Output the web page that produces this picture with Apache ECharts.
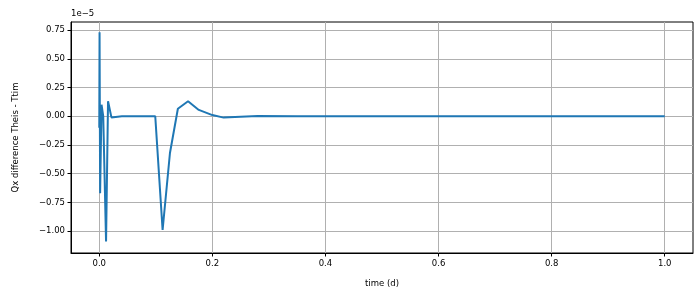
<!DOCTYPE html>
<html>
<head>
<meta charset="utf-8">
<script src="https://cdn.jsdelivr.net/npm/echarts@6/dist/echarts.min.js"></script>
<style>
  html, body { margin: 0; padding: 0; background: #fff; }
  #chart { width: 700px; height: 301px; }
</style>
</head>
<body>
<div id="chart"></div>
<script>
// time (d) and Qx difference (in units of 1e-5)
const times = [0, 0.0005, 0.0015, 0.004, 0.007, 0.01, 0.012, 0.0155, 0.0215, 0.025,
  0.04, 0.06, 0.08, 0.099, 0.112, 0.125, 0.139, 0.157, 0.176, 0.2, 0.22,
  0.25, 0.28, 0.35, 0.5, 0.75, 1.0];
const diffs = [-0.1, 0.73, -0.67, 0.1, 0.0, 0.0, -1.09, 0.13, -0.01, 0.0,
  0.0, 0.0, 0.0, 0.0, -0.99, -0.32, 0.065, 0.13, 0.055, 0.01, -0.012,
  -0.004, 0.003, 0.0, 0.0, 0.0, 0.0];
const xTicks = [0, 0.2, 0.4, 0.6, 0.8, 1.0];
const yTicks = [-1.0, -0.75, -0.5, -0.25, 0, 0.25, 0.5, 0.75];

const font = 'DejaVu Sans';
const chart = echarts.init(document.getElementById('chart'), null, { renderer: 'canvas' });

const minus = v => (v < 0 ? '\u2212' : '');
chart.setOption({
  animation: false,
  backgroundColor: '#fff',
  grid: {
    left: 71, right: 7, top: 22, bottom: 48,
    show: true, borderColor: '#000', borderWidth: 1, backgroundColor: 'transparent'
  },
  graphic: [{
    type: 'text', left: 71, top: 9,
    style: { text: '1e\u22125', font: '8.5px "DejaVu Sans"', fill: '#000' }
  }],
  xAxis: {
    type: 'value', min: -0.05, max: 1.05,
    name: 'time (d)', nameLocation: 'middle', nameGap: 26,
    nameTextStyle: { fontFamily: font, fontSize: 8.5, color: '#000' },
    axisLine: { show: true, onZero: false, lineStyle: { color: '#000', width: 1 } },
    axisTick: { show: true, inside: false, length: 3.5, lineStyle: { color: '#000' }, customValues: xTicks },
    axisLabel: {
      customValues: xTicks, fontFamily: font, fontSize: 8.5, color: '#000', margin: 6,
      formatter: v => minus(v) + Math.abs(v).toFixed(1)
    },
    splitLine: { show: true, lineStyle: { color: '#b0b0b0', width: 1 } }
  },
  yAxis: {
    type: 'value', min: -1.19, max: 0.82,
    name: 'Qx difference Theis - Ttim', nameLocation: 'middle', nameGap: 51, nameRotate: 90,
    nameTextStyle: { fontFamily: font, fontSize: 8.5, color: '#000' },
    axisLine: { show: true, onZero: false, lineStyle: { color: '#000', width: 1 } },
    axisTick: { show: true, inside: false, length: 3.5, lineStyle: { color: '#000' }, customValues: yTicks },
    axisLabel: {
      customValues: yTicks, fontFamily: font, fontSize: 8.5, color: '#000', margin: 6,
      formatter: v => minus(v) + Math.abs(v).toFixed(2)
    },
    splitLine: { show: true, lineStyle: { color: '#b0b0b0', width: 1 } }
  },
  series: [{
    type: 'line',
    data: times.map((t, i) => [t, diffs[i]]),
    showSymbol: false,
    lineStyle: { color: '#1f77b4', width: 2 },
    itemStyle: { color: '#1f77b4' }
  }]
});
</script>
</body>
</html>
